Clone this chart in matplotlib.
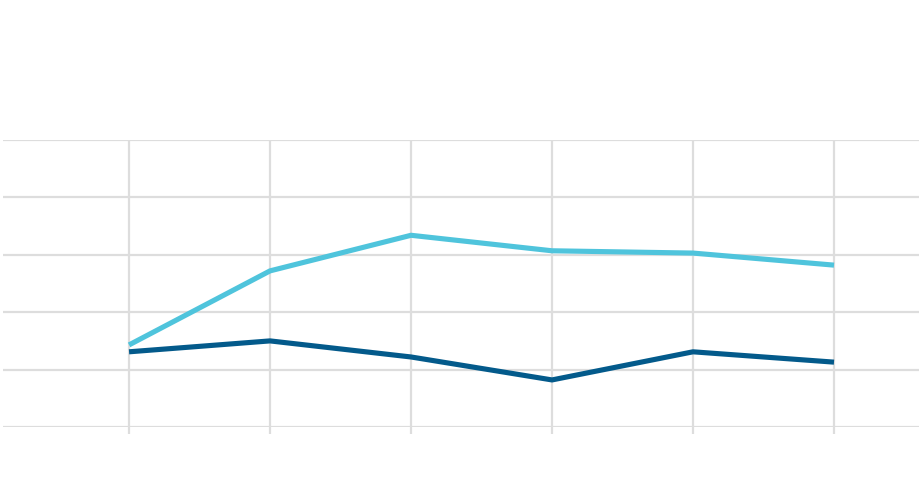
import matplotlib
matplotlib.use('Agg')
import matplotlib.pyplot as plt

# Dados (sem rótulos visíveis)
periods = [0, 1, 2, 3, 4, 5]
series_light = [1.43, 2.72, 3.34, 3.07, 3.03, 2.82]
series_dark = [1.31, 1.50, 1.22, 0.82, 1.31, 1.13]
y_ticks = [0, 1, 2, 3, 4, 5]

grid_color = '#dddddd'

fig = plt.figure(figsize=(9.2, 4.9), dpi=100)
ax = fig.add_axes([3 / 920, 1 - 427 / 490, 917 / 920, 287 / 490])

ax.plot(periods, series_light, color='#4fc4dc', linewidth=3.7, solid_capstyle='butt', zorder=3)
ax.plot(periods, series_dark, color='#035a8b', linewidth=3.7, solid_capstyle='butt', zorder=3)

ax.set_xlim(-0.894, 5.61)
ax.set_ylim(0, 5)
ax.set_xticks(periods)
ax.set_yticks(y_ticks)
ax.set_xticklabels([])
ax.set_yticklabels([])
ax.grid(True, color=grid_color, linewidth=1.6)
ax.tick_params(axis='x', length=5, width=1.6, color=grid_color, direction='out')
ax.tick_params(axis='y', length=0)
for s in ax.spines.values():
    s.set_visible(False)
ax.set_axisbelow(True)

fig.savefig('out.png', dpi=100, facecolor='white')
